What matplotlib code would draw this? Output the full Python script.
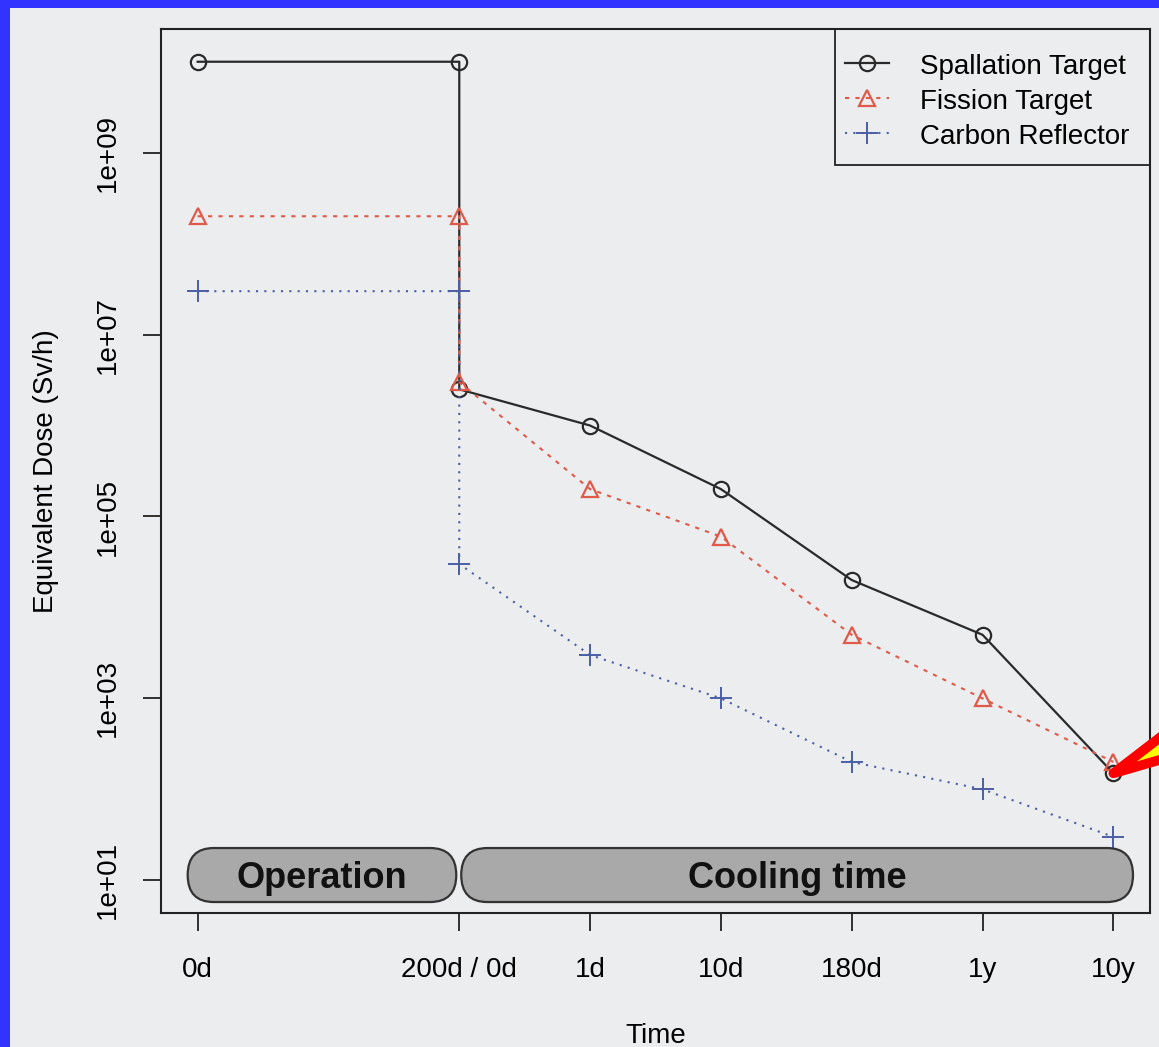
import matplotlib
matplotlib.use("Agg")
import matplotlib.pyplot as plt
from matplotlib.patches import FancyBboxPatch, Rectangle
from matplotlib.transforms import blended_transform_factory

plt.rcParams['font.family'] = ['Liberation Sans', 'DejaVu Sans']

# time points: 0d, 200d (end of operation) / 0d cooling, 1d, 10d, 180d, 1y, 10y
time_labels = ['0d', '200d / 0d', '1d', '10d', '180d', '1y', '10y']
time_ticks = [0, 2, 3, 4, 5, 6, 7]
x_pts = [0, 2, 2, 3, 4, 5, 6, 7]

spallation = [1e10, 1e10, 2.5e6, 1e6, 2e5, 2e4, 5e3, 150]
fission = [2e8, 2e8, 3e6, 2e5, 6e4, 5e3, 1e3, 200]
carbon = [3e7, 3e7, 3e4, 3e3, 1e3, 200, 100, 30]

y_ticks = [1e1, 1e3, 1e5, 1e7, 1e9]
y_labels = ['1e+01', '1e+03', '1e+05', '1e+07', '1e+09']

bg = '#ECEDEF'
fig = plt.figure(figsize=(11.59, 10.47), dpi=100, facecolor='#3333FF')
fig.patches.append(Rectangle((10/1159, 0), 1, 1 - 8/1047, transform=fig.transFigure,
                             facecolor=bg, edgecolor='none', zorder=-10))
ax = fig.add_axes([161/1159, 1 - 913/1047, 989/1159, 884/1047])
ax.set_facecolor(bg)

ax.plot(x_pts, spallation, color='#2A2A2A', lw=1.6, marker='o', ms=11, mfc='none',
        mew=1.6, label='Spallation Target')
ax.plot(x_pts, fission, color='#DF5A48', lw=1.5, ls=(0, (2, 3)), marker='^', ms=12,
        mfc='none', mew=1.6, label='Fission Target')
ax.plot(x_pts, carbon, color='#4A5FA5', lw=1.5, ls=(0, (1, 3)), marker='+', ms=16,
        mew=1.4, label='Carbon Reflector')

ax.set_yscale('log')
ax.set_xlim(-0.28, 7.28)
ax.set_ylim(10**0.64, 10**10.36)
ax.set_xticks(time_ticks)
ax.set_xticklabels(time_labels)
ax.set_yticks(y_ticks)
ax.set_yticklabels(y_labels, rotation=90, va='center')
ax.minorticks_off()
ax.tick_params(axis='both', labelsize=20, length=13, width=1.3, color='#222222')
ax.tick_params(axis='x', pad=19)
ax.tick_params(axis='y', pad=16)
for sp in ax.spines.values():
    sp.set_linewidth(1.5)
    sp.set_color('#222222')

ax.set_xlabel('Time', fontsize=20)
ax.xaxis.set_label_coords(0.5, -0.124)
ax.set_ylabel('Equivalent Dose (Sv/h)', fontsize=20)
ax.yaxis.set_label_coords(-0.103, 0.5)

# legend with an R-style box drawn separately
ax.legend(loc='upper left', bbox_to_anchor=(0.6916, 0.9742), borderaxespad=0,
          borderpad=0, fontsize=20, numpoints=1, handlelength=1.6,
          handleheight=1.0, labelspacing=0.26, handletextpad=1.1, frameon=False)
ax.add_patch(Rectangle((0.6815, 0.846), 1 - 0.6815, 1 - 0.846, transform=ax.transAxes,
                       facecolor='none', edgecolor='#222222', lw=1.3, zorder=5))

# phase boxes along the bottom
trans = blended_transform_factory(ax.transData, ax.transAxes)
phases = ['Operation', 'Cooling time']
phase_start = [-0.076, 2.015]
phase_end = [1.977, 7.15]
y0, h = 0.0124, 0.0611
r = 0.2
for name, s, e in zip(phases, phase_start, phase_end):
    box = FancyBboxPatch((s, y0), e - s, h, boxstyle='round,pad=0,rounding_size=%g' % r,
                         mutation_aspect=(h / 2) / r, transform=trans,
                         facecolor='#A9A9A9', edgecolor='#333333', lw=1.6, zorder=3)
    ax.add_patch(box)
    ax.text((s + e) / 2, y0 + h / 2 - 0.004, name, transform=trans, ha='center',
            va='center', fontsize=26, fontweight='bold', color='#111111', zorder=4)

# red pointer to the 10y point
ax.annotate('', xy=(7, 150), xycoords='data', xytext=(1.076, 0.222),
            textcoords='axes fraction',
            arrowprops=dict(arrowstyle='wedge,tail_width=1.7', mutation_scale=20,
                            fc='#FFFF00', ec='#FF0000', lw=7, shrinkA=0, shrinkB=0),
            zorder=6)

fig.savefig('out.png', dpi=100, facecolor=fig.get_facecolor())
